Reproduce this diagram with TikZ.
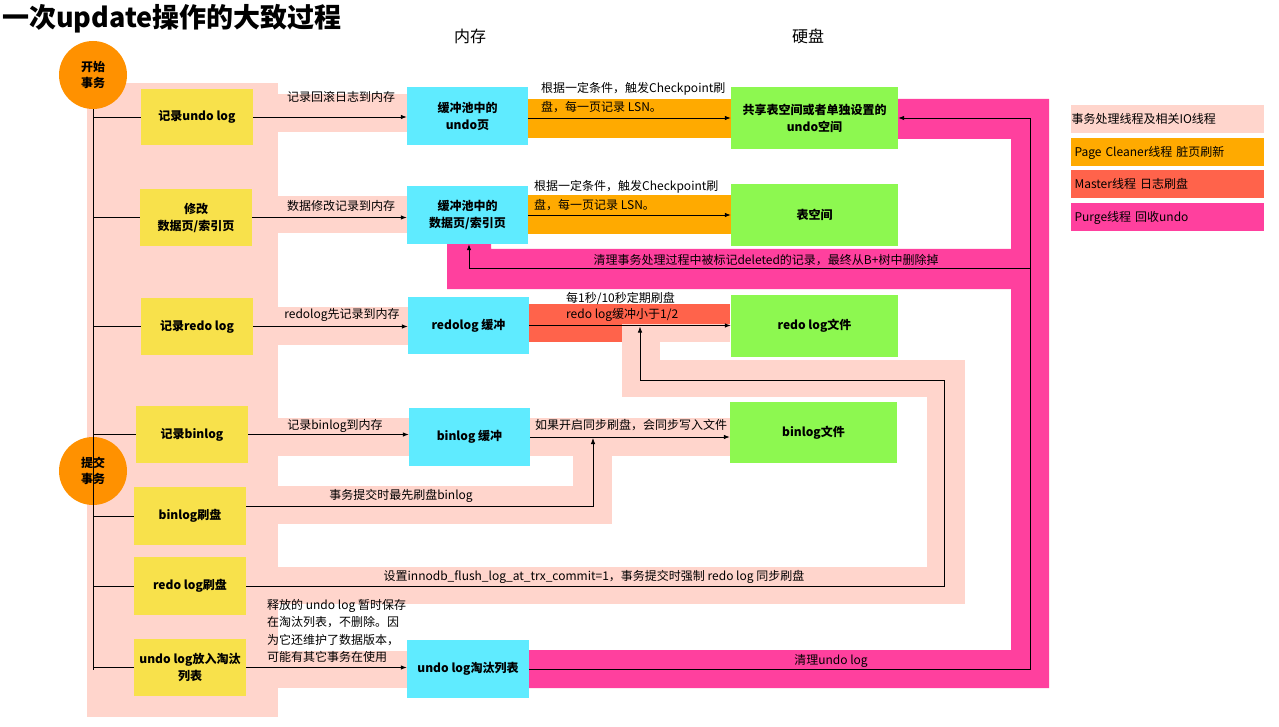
\documentclass[tikz,border=0pt]{standalone}
\usepackage{fontspec}
\setmainfont{Noto Sans CJK SC}
\usetikzlibrary{arrows.meta}
\definecolor{tpink}{HTML}{FFD5CC}
\definecolor{tyellow}{HTML}{F8E14B}
\definecolor{tcyan}{HTML}{5FEBFF}
\definecolor{tgreen}{HTML}{8DF850}
\definecolor{torange}{HTML}{FFAA00}
\definecolor{tred}{HTML}{FF634B}
\definecolor{tmag}{HTML}{FF409E}
\definecolor{tcirc}{HTML}{FF9100}
\begin{document}
\begin{tikzpicture}[x=1pt,y=-1pt,
  box/.style={rectangle, inner sep=0pt, align=center, font=\bfseries\fontsize{12}{17}\selectfont},
  ybox/.style={box, fill=tyellow},
  cbox/.style={box, fill=tcyan},
  gbox/.style={box, fill=tgreen},
  circ/.style={circle, fill=tcirc, minimum size=68pt, inner sep=0pt, align=center, font=\bfseries\fontsize{12}{16}\selectfont},
  lbl/.style={inner sep=0pt, font=\fontsize{12}{18}\selectfont},
  arr/.style={draw=black, line width=0.8pt, -{Latex[length=6pt,width=4.5pt]}},
  ln/.style={draw=black, line width=0.8pt},
  leg/.style={rectangle, minimum height=28pt, minimum width=193pt, text width=185pt, inner xsep=4pt, align=left, font=\fontsize{12}{14}\selectfont},
]
\useasboundingbox (0,0) rectangle (1279,727);
\fill[white] (0,0) rectangle (1279,727);

% ---------- background bands ----------
% transaction thread (light pink)
\fill[tpink] (87,83) rectangle (278,717);
\fill[tpink] (278,94) rectangle (407,132);
\fill[tpink] (278,196) rectangle (407,233);
\fill[tpink] (278,307) rectangle (408,345);
\fill[tpink] (278,418) rectangle (409,456);
\fill[tpink] (530,418) rectangle (730,456);
\fill[tpink] (573,456) rectangle (612,524);
\fill[tpink] (278,486) rectangle (612,524);
\fill[tpink] (278,567) rectangle (965,604);
\fill[tpink] (927,360) rectangle (965,604);
\fill[tpink] (622,360) rectangle (965,397);
\fill[tpink] (278,651) rectangle (407,688);
% page cleaner (orange)
\fill[torange] (528,99) rectangle (731,138);
\fill[torange] (528,195) rectangle (731,234);
% master (red)
\fill[tred] (528,304) rectangle (730,342);
\fill[tpink] (622,324) rectangle (730,342);
\fill[tpink] (622,324) rectangle (660,397);
% purge (magenta)
\fill[tmag] (898,99) -- (1049,99) -- (1049,688) -- (528,688) -- (528,650) -- (1011,650)
  -- (1011,289) -- (447,289) -- (447,244) -- (491,244) -- (491,249) -- (1011,249)
  -- (1011,139) -- (898,139) -- cycle;

% ---------- title & headers ----------
\node[anchor=west, inner sep=0pt, font=\bfseries\fontsize{27}{30}\selectfont] (title) at (2,19) {一次update操作的大致过程};
\node[lbl, font=\fontsize{16}{18}\selectfont] (hmem) at (470,36) {内存};
\node[lbl, font=\fontsize{16}{18}\selectfont] (hdisk) at (808,36) {硬盘};

% ---------- circles ----------
\node[circ] (S1) at (93,75) {开始\\事务};
\node[circ] (S2) at (93,471) {提交\\事务};

% ---------- yellow boxes ----------
\node[ybox, minimum width=112pt, minimum height=56pt] (Y1) at (197,117) {记录undo log};
\node[ybox, minimum width=112pt, minimum height=57pt] (Y2) at (196,217.5) {修改\\数据页/索引页};
\node[ybox, minimum width=112pt, minimum height=57pt] (Y3) at (197,326.5) {记录redo log};
\node[ybox, minimum width=112pt, minimum height=57pt] (Y4) at (192,434.5) {记录binlog};
\node[ybox, minimum width=112pt, minimum height=58pt] (Y5) at (190,516) {binlog刷盘};
\node[ybox, minimum width=112pt, minimum height=58pt] (Y6) at (190,586) {redo log刷盘};
\node[ybox, minimum width=112pt, minimum height=57pt] (Y7) at (190,667.5) {undo log放入淘汰\\列表};

% ---------- cyan boxes ----------
\node[cbox, minimum width=121pt, minimum height=58pt] (C1) at (467.5,116) {缓冲池中的\\undo页};
\node[cbox, minimum width=121pt, minimum height=58pt] (C2) at (467.5,215) {缓冲池中的\\数据页/索引页};
\node[cbox, minimum width=121pt, minimum height=57pt] (C3) at (468.5,325.5) {redolog 缓冲};
\node[cbox, minimum width=121pt, minimum height=58pt] (C4) at (469.5,437) {binlog 缓冲};
\node[cbox, minimum width=122pt, minimum height=58pt] (C5) at (468,669) {undo log淘汰列表};

% ---------- green boxes ----------
\node[gbox, minimum width=167pt, minimum height=62pt] (G1) at (814.5,118) {共享表空间或者单独设置的\\undo空间};
\node[gbox, minimum width=167pt, minimum height=62pt] (G2) at (814.5,215) {表空间};
\node[gbox, minimum width=167pt, minimum height=62pt] (G3) at (814.5,326) {redo log文件};
\node[gbox, minimum width=167pt, minimum height=61pt] (G4) at (813.5,432.5) {binlog文件};

% ---------- coordinates ----------
\coordinate (vb) at (93,670);
\coordinate (b5) at (593,506);
\coordinate (r6a) at (944,586);
\coordinate (r6b) at (944,380);
\coordinate (r6c) at (640,380);
\coordinate (pr) at (1030,0);
\coordinate (pq) at (1030,268);
\coordinate (pq2) at (469,268);

% ---------- connectors ----------
\draw[ln] (S1.south) -- (vb);
\foreach \b in {Y1,Y2,Y3,Y4,Y5,Y6,Y7} \draw[ln] (\b.west -| S1) -- (\b.west);
\draw[arr] (Y1.east) -- (Y1.east -| C1.west);
\draw[arr] (Y2.east) -- (Y2.east -| C2.west);
\draw[arr] (Y3.east) -- (Y3.east -| C3.west);
\draw[arr] (Y4.east) -- (Y4.east -| C4.west);
\draw[arr] ([yshift=10pt]Y5.east) -- (b5) -- ([yshift=-1pt]b5 |- C4.east);
\draw[arr] (Y6.east) -- (r6a) -- (r6b) -- (r6c) -- ([yshift=-1pt]r6c |- C3.east);
\draw[arr] (Y7.east) -- (Y7.east -| C5.west);
\draw[arr] (C1.east |- G1.west) -- (G1.west);
\draw[arr] (C2.east |- G2.west) -- (G2.west);
\draw[arr] (C3.east) -- (C3.east -| G3.west);
\draw[arr] (C4.east) -- (C4.east -| G4.west);
\draw[arr] (C5.east) -- (C5.east -| pr) -- (G1.east -| pr) -- (G1.east);
\draw[arr] (pq) -- (pq2) -- (pq2 |- C2.south);

% ---------- labels ----------
\node[lbl] (t1) at (341,97) {记录回滚日志到内存};
\node[lbl] (t2) at (341,206) {数据修改记录到内存};
\node[lbl] (t3) at (342,315) {redolog先记录到内存};
\node[lbl] (t4) at (335,426) {记录binlog到内存};
\node[lbl] (t5) at (401,496) {事务提交时最先刷盘binlog};
\node[lbl] (t6) at (594,577) {设置innodb\_flush\_log\_at\_trx\_commit=1，事务提交时强制 redo log 同步刷盘};
\node[lbl, align=left, anchor=north west, font=\fontsize{12}{17.5}\selectfont] (t7) at (267,599) {释放的 undo log 暂时保存\\在淘汰列表，不删除。因\\为它还维护了数据版本，\\可能有其它事务在使用};
\node[lbl, align=left, anchor=north west, font=\fontsize{12}{19}\selectfont] (t8) at (541,82) {根据一定条件，触发Checkpoint刷\\盘，每一页记录 LSN。};
\node[lbl, align=left, anchor=north west, font=\fontsize{12}{19}\selectfont] (t9) at (534,180) {根据一定条件，触发Checkpoint刷\\盘，每一页记录 LSN。};
\node[lbl, anchor=west] (t10) at (566,298) {每1秒/10秒定期刷盘};
\node[lbl, anchor=west] (t11) at (566,315) {redo log缓冲小于1/2};
\node[lbl] (t12) at (631,425) {如果开启同步刷盘，会同步写入文件};
\node[lbl] (t13) at (766,260) {清理事务处理过程中被标记deleted的记录，最终从B+树中删除掉};
\node[lbl] (t14) at (831,661) {清理undo log};

% ---------- legend ----------
\node[leg, fill=tpink, inner xsep=1pt, text width=191pt] (L1) at (1167,119) {事务处理线程及相关IO线程};
\node[leg, fill=torange] (L2) at (1167,152.5) {Page Cleaner线程 脏页刷新};
\node[leg, fill=tred] (L3) at (1167,184) {Master线程 日志刷盘};
\node[leg, fill=tmag] (L4) at (1167,217.5) {Purge线程 回收undo};
\end{tikzpicture}
\end{document}
